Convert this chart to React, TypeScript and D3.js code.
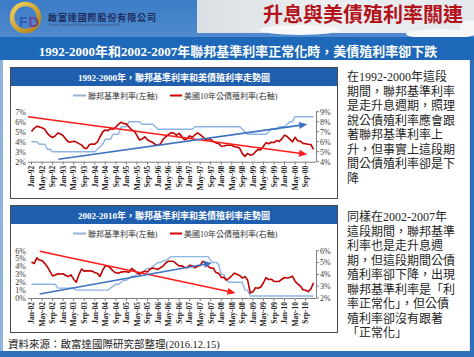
import React from "react";
import * as d3 from "d3";

// ---------- DATA ----------
const LABELS_1 = [
  "Jan-92","May-92","Sep-92","Jan-93","May-93","Sep-93","Jan-94","May-94","Sep-94",
  "Jan-95","May-95","Sep-95","Jan-96","May-96","Sep-96","Jan-97","May-97","Sep-97",
  "Jan-98","May-98","Sep-98","Jan-99","May-99","Sep-99","Jan-00","May-00","Sep-00",
];
const LABELS_2 = [
  "Jan-02","May-02","Sep-02","Jan-03","May-03","Sep-03","Jan-04","May-04","Sep-04",
  "Jan-05","May-05","Sep-05","Jan-06","May-06","Sep-06","Jan-07","May-07","Sep-07",
  "Jan-08","May-08","Sep-08","Jan-09","May-09","Sep-09","Jan-10","May-10","Sep-10",
];

// Fed funds target, monthly 1992-2000 (left axis)
const FED_1992 = [
  4.0, 4.0, 4.0, 3.75, 3.75, 3.75, 3.25, 3.25, 3.0, 3.0, 3.0, 3.0,
  3.0, 3.0, 3.0, 3.0, 3.0, 3.0, 3.0, 3.0, 3.0, 3.0, 3.0, 3.0,
  3.0, 3.25, 3.5, 3.75, 4.25, 4.25, 4.25, 4.75, 4.75, 4.75, 5.5, 5.5,
  5.5, 6.0, 6.0, 6.0, 6.0, 6.0, 5.75, 5.75, 5.75, 5.75, 5.75, 5.5,
  5.25, 5.25, 5.25, 5.25, 5.25, 5.25, 5.25, 5.25, 5.25, 5.25, 5.25, 5.25,
  5.25, 5.25, 5.5, 5.5, 5.5, 5.5, 5.5, 5.5, 5.5, 5.5, 5.5, 5.5,
  5.5, 5.5, 5.5, 5.5, 5.5, 5.5, 5.5, 5.5, 5.25, 5.0, 4.75, 4.75,
  4.75, 4.75, 4.75, 4.75, 4.75, 4.75, 5.0, 5.25, 5.25, 5.25, 5.5, 5.5,
  5.5, 5.75, 6.0, 6.0, 6.5, 6.5, 6.5, 6.5, 6.5, 6.5, 6.5, 6.5,
];
// US 10y yield, monthly 1992-2000 (right axis)
const UST_1992 = [
  7.03, 7.34, 7.54, 7.48, 7.39, 7.26, 6.84, 6.59, 6.42, 6.59, 6.87, 6.77,
  6.60, 6.26, 5.98, 5.97, 6.04, 5.96, 5.81, 5.68, 5.36, 5.33, 5.72, 5.77,
  5.75, 5.97, 6.48, 6.97, 7.18, 7.10, 7.30, 7.24, 7.46, 7.74, 7.96, 7.81,
  7.78, 7.47, 7.20, 7.06, 6.63, 6.17, 6.28, 6.49, 6.20, 6.04, 5.93, 5.71,
  5.65, 5.81, 6.27, 6.51, 6.74, 6.91, 6.87, 6.64, 6.83, 6.53, 6.20, 6.30,
  6.58, 6.42, 6.69, 6.89, 6.71, 6.49, 6.22, 6.30, 6.21, 6.03, 5.88, 5.81,
  5.54, 5.57, 5.65, 5.64, 5.65, 5.50, 5.46, 5.34, 4.81, 4.53, 4.83, 4.65,
  4.72, 5.00, 5.23, 5.18, 5.54, 5.90, 5.79, 5.94, 5.92, 6.11, 6.03, 6.28,
  6.66, 6.52, 6.26, 5.99, 6.44, 6.10, 6.05, 5.83, 5.80, 5.74, 5.72, 5.24,
];
// Fed funds target, monthly 2002-2010 (left axis)
const FED_2002 = [
  1.75, 1.75, 1.75, 1.75, 1.75, 1.75, 1.75, 1.75, 1.75, 1.75, 1.25, 1.25,
  1.25, 1.25, 1.25, 1.25, 1.25, 1.0, 1.0, 1.0, 1.0, 1.0, 1.0, 1.0,
  1.0, 1.0, 1.0, 1.0, 1.0, 1.0, 1.25, 1.5, 1.75, 1.75, 2.0, 2.25,
  2.25, 2.5, 2.75, 2.75, 3.0, 3.25, 3.25, 3.5, 3.75, 3.75, 4.0, 4.25,
  4.5, 4.5, 4.75, 4.75, 5.0, 5.25, 5.25, 5.25, 5.25, 5.25, 5.25, 5.25,
  5.25, 5.25, 5.25, 5.25, 5.25, 5.25, 5.25, 5.25, 4.75, 4.5, 4.5, 4.25,
  3.0, 3.0, 2.25, 2.0, 2.0, 2.0, 2.0, 2.0, 2.0, 1.0, 1.0, 0.25,
  0.25, 0.25, 0.25, 0.25, 0.25, 0.25, 0.25, 0.25, 0.25, 0.25, 0.25, 0.25,
  0.25, 0.25, 0.25, 0.25, 0.25, 0.25, 0.25, 0.25, 0.25, 0.25, 0.25, 0.25,
];
// US 10y yield, monthly 2002-2010 (right axis)
const UST_2002 = [
  5.04, 4.91, 5.40, 5.21, 5.16, 4.93, 4.65, 4.26, 3.87, 3.94, 4.05, 4.03,
  4.05, 3.90, 3.81, 3.96, 3.57, 3.33, 3.98, 4.45, 4.27, 4.29, 4.30, 4.27,
  4.15, 4.08, 3.83, 4.35, 4.72, 4.73, 4.50, 4.28, 4.13, 4.10, 4.19, 4.23,
  4.22, 4.17, 4.50, 4.34, 4.14, 4.00, 4.18, 4.26, 4.20, 4.46, 4.54, 4.47,
  4.42, 4.57, 4.72, 4.99, 5.11, 5.11, 5.09, 4.88, 4.72, 4.73, 4.60, 4.56,
  4.76, 4.72, 4.56, 4.69, 4.75, 5.10, 5.00, 4.67, 4.52, 4.53, 4.15, 4.10,
  3.74, 3.74, 3.51, 3.68, 3.88, 4.10, 4.01, 3.89, 3.69, 3.81, 3.53, 2.42,
  2.52, 2.87, 2.82, 2.93, 3.29, 3.72, 3.56, 3.59, 3.40, 3.39, 3.40, 3.59,
  3.73, 3.69, 3.73, 3.85, 3.42, 3.20, 3.01, 2.70, 2.65, 2.54, 2.76, 3.29,
];

// Hand-drawn trend arrows: [monthIndex, left-axis %]
const TREND_1_RED: [number, number][] = [[-1.3, 6.5], [104.6, 2.74]];
const TREND_1_BLUE: [number, number][] = [[10.2, 2.24], [104.6, 5.74]];
const TREND_2_RED: [number, number][] = [[3.1, 5.93], [77.4, 0.63]];
const TREND_2_BLUE: [number, number][] = [[3.1, 0.5], [68.5, 4.44]];

const LEFT_TICKS_1 = [2, 3, 4, 5, 6, 7];
const RIGHT_TICKS_1 = [4, 5, 6, 7, 8, 9];
const LEFT_TICKS_2 = [0, 1, 2, 3, 4, 5, 6];
const RIGHT_TICKS_2 = [2, 3, 4, 5, 6];

const TEXT_1 = [
  "在1992-2000年這段",
  "期間，聯邦基準利率",
  "是走升息週期，照理",
  "說公債殖利率應會跟",
  "著聯邦基準利率上",
  "升，但事實上這段期",
  "間公債殖利率卻是下",
  "降",
];
const TEXT_2 = [
  "同樣在2002-2007年",
  "這段期間，聯邦基準",
  "利率也是走升息週",
  "期，但這段期間公債",
  "殖利率卻下降，出現",
  "聯邦基準利率是「利",
  "率正常化」，但公債",
  "殖利率卻沒有跟著",
  "「正常化」",
];

const SERIF = "'Liberation Serif','Noto Sans CJK TC',serif";
const CJK = "'Noto Sans CJK TC','Liberation Serif',sans-serif";

type ChartProps = {
  top: number;
  bottom: number;
  title: string;
  fed: number[];
  ust: number[];
  labels: string[];
  leftDomain: [number, number];
  rightDomain: [number, number];
  leftTicks: number[];
  rightTicks: number[];
  plotTop: number;
  plotBottom: number;
  trendRed: [number, number][];
  trendBlue: [number, number][];
};

function arrowHead(x1: number, y1: number, x2: number, y2: number, len = 8, hw = 3.5) {
  const a = Math.atan2(y2 - y1, x2 - x1);
  const bx = x2 - len * Math.cos(a);
  const by = y2 - len * Math.sin(a);
  const px = -Math.sin(a) * hw;
  const py = Math.cos(a) * hw;
  return `M${x2},${y2}L${bx + px},${by + py}L${bx - px},${by - py}Z`;
}

function Chart(p: ChartProps) {
  const x = d3.scaleLinear().domain([0, p.fed.length - 1]).range([31.5, 313.5]);
  const yL = d3.scaleLinear().domain(p.leftDomain).range([p.plotBottom, p.plotTop]);
  const yR = d3.scaleLinear().domain(p.rightDomain).range([p.plotBottom, p.plotTop]);
  const lineL = d3.line<number>().x((_, i) => x(i)).y((d) => yL(d));
  const lineR = d3.line<number>().x((_, i) => x(i)).y((d) => yR(d));
  const axisRight = 316;
  const legendY = p.top + 28.5;

  const trend = (t: [number, number][], color: string, w: number) => {
    const x1 = x(t[0][0]), y1 = yL(t[0][1]), x2 = x(t[1][0]), y2 = yL(t[1][1]);
    const a = Math.atan2(y2 - y1, x2 - x1);
    return (
      <g>
        <line x1={x1} y1={y1} x2={x2 - 6 * Math.cos(a)} y2={y2 - 6 * Math.sin(a)} stroke={color} strokeWidth={w} />
        <path d={arrowHead(x1, y1, x2, y2)} fill={color} />
      </g>
    );
  };

  return (
    <g>
      <rect x={10.5} y={p.top + 0.5} width={327} height={p.bottom - p.top} fill="#fff" stroke="#4a4a4a" />
      <rect x={11} y={p.top + 1} width={326} height={18} fill="#1f5fae" />
      <text x={174} y={p.top + 13.5} textAnchor="middle" fill="#fff" fontSize={9} fontWeight="bold" fontFamily={SERIF}>
        {p.title}
      </text>
      {/* legend */}
      <line x1={73} x2={86} y1={legendY} y2={legendY} stroke="#95b3d7" strokeWidth={2} />
      <text x={88} y={legendY + 3} fontSize={8} fill="#333" fontFamily={SERIF}>聯邦基準利率(左軸)</text>
      <line x1={170} x2={182} y1={legendY} y2={legendY} stroke="#d00000" strokeWidth={2} />
      <text x={184} y={legendY + 3} fontSize={8} fill="#333" fontFamily={SERIF}>美國10年公債殖利率(右軸)</text>

      {/* axes */}
      <line x1={28} x2={axisRight} y1={p.plotBottom + 0.5} y2={p.plotBottom + 0.5} stroke="#7f7f7f" />
      {p.labels.map((l, i) => (
        <g key={l}>
          <line x1={x(i * 4)} x2={x(i * 4)} y1={p.plotBottom} y2={p.plotBottom + 3} stroke="#7f7f7f" />
          <text
            transform={`translate(${x(i * 4) + 2.8},${p.plotBottom + 4}) rotate(-90)`}
            textAnchor="end"
            fontSize={7.5}
            fontWeight="bold"
            fill="#1a1a1a"
            fontFamily={SERIF}
          >
            {l}
          </text>
        </g>
      ))}
      <line x1={axisRight + 0.5} x2={axisRight + 0.5} y1={p.plotTop} y2={p.plotBottom} stroke="#7f7f7f" />
      {p.rightTicks.map((t) => (
        <g key={"r" + t}>
          <line x1={axisRight} x2={axisRight + 3} y1={yR(t)} y2={yR(t)} stroke="#7f7f7f" />
          <text x={axisRight + 4} y={yR(t) + 2.8} fontSize={8} fill="#333" fontFamily={SERIF}>{t}%</text>
        </g>
      ))}
      {p.leftTicks.map((t) => (
        <text key={"l" + t} x={26} y={yL(t) + 2.8} textAnchor="end" fontSize={8} fill="#333" fontFamily={SERIF}>
          {t}%
        </text>
      ))}

      {/* series */}
      <path d={lineL(p.fed) || ""} fill="none" stroke="#8eb4e3" strokeWidth={1.4} />
      <path d={lineR(p.ust) || ""} fill="none" stroke="#c00000" strokeWidth={1.6} strokeLinejoin="round" />
      {trend(p.trendRed, "#ff1a1a", 1.4)}
      {trend(p.trendBlue, "#3d72c0", 1.6)}
    </g>
  );
}

export default function App() {
  return (
    <svg width={474} height={357} style={{ position: "absolute", left: 0, top: 0 }}>
      <defs>
        <linearGradient id="hdr" x1="0" y1="0" x2="0" y2="1">
          <stop offset="0" stopColor="#3c7cc6" />
          <stop offset="1" stopColor="#4f8bcd" />
        </linearGradient>
        <linearGradient id="map" x1="0" y1="0" x2="1" y2="0">
          <stop offset="0" stopColor="#d9dfe4" />
          <stop offset="0.5" stopColor="#eceff1" />
          <stop offset="1" stopColor="#e3e8ec" />
        </linearGradient>
        <linearGradient id="gold" x1="0" y1="0" x2="1" y2="1">
          <stop offset="0" stopColor="#f6d25a" />
          <stop offset="1" stopColor="#b07d14" />
        </linearGradient>
        <linearGradient id="side" x1="0" y1="0" x2="1" y2="0">
          <stop offset="0" stopColor="#8fb3dc" />
          <stop offset="1" stopColor="#dce8f4" />
        </linearGradient>
      </defs>

      {/* page frame */}
      <rect x={0} y={0} width={474} height={357} fill="#2f6fb9" />
      <rect x={0} y={60} width={470} height={291} fill="url(#side)" />
      <rect x={3} y={60} width={466} height={291} fill="#ffffff" />

      {/* header */}
      <rect x={0} y={0} width={474} height={38} fill="url(#hdr)" />
      <rect x={197} y={0} width={277} height={33} fill="url(#map)" />
      <ellipse cx={300} cy={30} rx={40} ry={5} fill="#f7f8f9" />
      <ellipse cx={440} cy={34} rx={34} ry={5} fill="#f5f7f8" />
      <ellipse cx={470} cy={28} rx={10} ry={8} fill="#f5f7f8" />
      <text x={263} y={21.5} fontSize={20} fontWeight="bold" fill="#b3121a" fontFamily={CJK}>
        升息與美債殖利率關連
      </text>

      {/* logo */}
      <circle cx={25.5} cy={17.5} r={13.5} fill="none" stroke="url(#gold)" strokeWidth={4.5} />
      <text x={19} y={27} fontSize={14} fontWeight="bold" fill="#2b5cb3" fontFamily="'Liberation Sans',sans-serif">F</text>
      <text x={28.5} y={27} fontSize={14} fontWeight="bold" fill="#6b3fa0" fontFamily="'Liberation Sans',sans-serif">D</text>
      <text x={48} y={21} fontSize={9} fontWeight="bold" fill="#1e2c5c" fontFamily={CJK} letterSpacing={0.9}>
        啟富達國際股份有限公司
      </text>
      <text x={48} y={25.5} fontSize={3.8} fill="#3a4a70" fontFamily="'Liberation Sans',sans-serif">
        Create Fortune &amp; Dreams International Ltd.
      </text>

      {/* band */}
      <rect x={0} y={37} width={474} height={23} fill="#1d68b8" />
      <text x={238} y={56} textAnchor="middle" fontSize={13} fontWeight="bold" fill="#fff" fontFamily={SERIF}>
        1992-2000年和2002-2007年聯邦基準利率正常化時，美債殖利率卻下跌
      </text>

      <Chart
        top={67}
        bottom={198}
        title="1992-2000年，聯邦基準利率和美債殖利率走勢圖"
        fed={FED_1992}
        ust={UST_1992}
        labels={LABELS_1}
        leftDomain={[2, 7]}
        rightDomain={[4, 9]}
        leftTicks={LEFT_TICKS_1}
        rightTicks={RIGHT_TICKS_1}
        plotTop={111.7}
        plotBottom={161.7}
        trendRed={TREND_1_RED}
        trendBlue={TREND_1_BLUE}
      />
      <Chart
        top={205}
        bottom={332}
        title="2002-2010年，聯邦基準利率和美債殖利率走勢圖"
        fed={FED_2002}
        ust={UST_2002}
        labels={LABELS_2}
        leftDomain={[0, 6]}
        rightDomain={[2, 6]}
        leftTicks={LEFT_TICKS_2}
        rightTicks={RIGHT_TICKS_2}
        plotTop={250.7}
        plotBottom={298}
        trendRed={TREND_2_RED}
        trendBlue={TREND_2_BLUE}
      />

      {/* commentary */}
      {TEXT_1.map((t, i) => (
        <text key={"a" + i} x={347} y={81 + i * 14.55} fontSize={12} fill="#262626" fontFamily={SERIF}>{t}</text>
      ))}
      {TEXT_2.map((t, i) => (
        <text key={"b" + i} x={347} y={221 + i * 14.5} fontSize={12} fill="#262626" fontFamily={SERIF}>{t}</text>
      ))}

      <text x={8} y={348} fontSize={10.5} fill="#222" fontFamily={SERIF}>
        資料來源：啟富達國際研究部整理(2016.12.15)
      </text>
    </svg>
  );
}
